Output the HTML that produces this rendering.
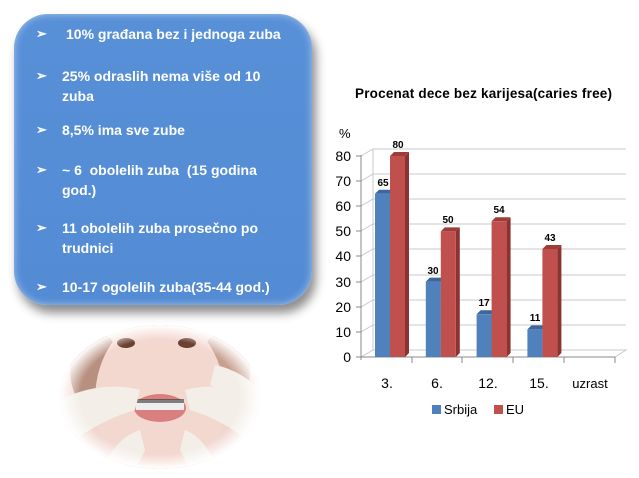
<!DOCTYPE html>
<html><head><meta charset="utf-8"><style>
body{margin:0;background:#fff;width:639px;height:478px;overflow:hidden;font-family:"Liberation Sans",sans-serif;position:relative}
.box{position:absolute;left:14px;top:14px;width:298px;height:291px;border-radius:34px;background:linear-gradient(#5890d8,#538bd4);box-shadow:4px 8px 10px rgba(0,0,0,.45), inset 0 0 8px rgba(255,255,255,.5);}
.box p{position:absolute;margin:0;color:#fff;font-weight:bold;font-size:14px;line-height:20px;left:22px;width:270px}
.box p span{position:absolute;left:0;top:0;font-size:13px}
.box p b{display:block;padding-left:36px}
</style></head><body>
<div class="box">
<p style="top:10px"><span>➢</span><b style="padding-left:30px">10% građana bez i jednoga zuba</b></p>
<p style="top:52px"><span>➢</span><b style="padding-left:26px;width:215px">25% odraslih nema više od 10 zuba</b></p>
<p style="top:106px"><span>➢</span><b style="padding-left:26px">8,5% ima sve zube</b></p>
<p style="top:146px"><span>➢</span><b style="padding-left:26px;width:220px">~ 6&nbsp; obolelih zuba&nbsp; (15 godina god.)</b></p>
<p style="top:204px"><span>➢</span><b style="padding-left:26px;width:220px">11 obolelih zuba prosečno po trudnici</b></p>
<p style="top:263px"><span>➢</span><b style="padding-left:26px">10-17 ogolelih zuba(35-44 god.)</b></p>
</div>
<svg width="639" height="478" style="position:absolute;left:0;top:0">
<defs>
<radialGradient id="fade" cx="50%" cy="50%" r="50%"><stop offset="80%" stop-color="#fff" stop-opacity="0"/><stop offset="100%" stop-color="#fff" stop-opacity="1"/></radialGradient>
<clipPath id="el"><ellipse cx="160" cy="397" rx="100" ry="72"/></clipPath>
</defs>
<g clip-path="url(#el)">
<rect x="55" y="320" width="210" height="160" fill="#f1d6cf"/>
<ellipse cx="95" cy="370" rx="25" ry="40" fill="#b89080"/>
<ellipse cx="225" cy="370" rx="25" ry="40" fill="#c8a090"/>
<ellipse cx="160" cy="400" rx="65" ry="85" fill="#f3d8d0"/>
<ellipse cx="126" cy="343" rx="9" ry="5" fill="#6a4030"/>
<ellipse cx="187" cy="343" rx="9" ry="5" fill="#6a4030"/>
<ellipse cx="160" cy="408" rx="26" ry="14" fill="#d88080"/>
<rect x="136" y="400" width="48" height="10" fill="#eee"/>
<rect x="136" y="399" width="48" height="4" fill="#333" opacity=".6"/>
<path d="M60 400 Q100 380 140 390 L135 410 Q100 420 60 450Z" fill="#f3efe8"/>
<path d="M260 400 Q220 380 185 390 L190 410 Q225 420 260 450Z" fill="#f3efe8"/>
<path d="M100 480 Q110 440 140 430 L145 450 L130 480Z" fill="#f3efe8"/>
<path d="M220 480 Q210 440 185 430 L180 450 L195 480Z" fill="#f3efe8"/>
<path d="M215 365 Q240 370 260 390 L255 410 Q235 395 210 385Z" fill="#f3efe8"/>
<ellipse cx="160" cy="397" rx="100" ry="72" fill="url(#fade)"/>
</g>
<text x="355" y="98" font-size="13.5" font-weight="bold" fill="#000" textLength="257">Procenat dece bez karijesa(caries free)</text>
<text x="339" y="138" font-size="13" fill="#000">%</text>
<g stroke="#c8c8c8" stroke-width="1" fill="none">
<path d="M361 357 L373 350 L373 149 L626 149"/>
<path d="M373 350 L626 350 L615 357"/>
<path d="M361 332 L373 325 H626 M361 307 L373 300 H626 M361 282 L373 275 H626 M361 256 L373 249 H626 M361 231 L373 224 H626 M361 206 L373 199 H626 M361 181 L373 174 H626 M361 156 L373 149"/>
</g>
<g stroke="#888" fill="none"><path d="M361 155 V360 M356 357 H615 M356 332h5 M356 307h5 M356 282h5 M356 256h5 M356 231h5 M356 206h5 M356 181h5 M356 156h5 M412 357v6 M462 357v6 M513 357v6 M564 357v6 M615 357v6"/></g>
<g font-size="14" fill="#000" text-anchor="end">
<text x="351" y="362">0</text><text x="351" y="337">10</text><text x="351" y="312">20</text><text x="351" y="287">30</text><text x="351" y="261">40</text><text x="351" y="236">50</text><text x="351" y="211">60</text><text x="351" y="186">70</text><text x="351" y="161">80</text>
</g>
<!-- bars -->
<g>
<!-- 3. Srbija 65 x=375 y=193.7 -->
<polygon points="390,193.7 394,189.7 394,353 390,357" fill="#3a6399"/>
<polygon points="375,193.7 379,189.7 394,189.7 390,193.7" fill="#3d679c"/>
<rect x="375" y="193.7" width="15" height="163.3" fill="#4f81bd"/>
<!-- 3. EU 80 x=390 y=156 -->
<polygon points="405,156 409,152 409,353 405,357" fill="#8b3331"/>
<polygon points="390,156 394,152 409,152 405,156" fill="#9e3c3a"/>
<rect x="390" y="156" width="15" height="201" fill="#c0504d"/>
<!-- 6. Srbija 30 x=425.8 y=281.6 -->
<polygon points="440.8,281.6 444.8,277.6 444.8,353 440.8,357" fill="#3a6399"/>
<polygon points="425.8,281.6 429.8,277.6 444.8,277.6 440.8,281.6" fill="#3d679c"/>
<rect x="425.8" y="281.6" width="15" height="75.4" fill="#4f81bd"/>
<!-- 6. EU 50 x=440.8 y=231.4 -->
<polygon points="455.8,231.4 459.8,227.4 459.8,353 455.8,357" fill="#8b3331"/>
<polygon points="440.8,231.4 444.8,227.4 459.8,227.4 455.8,231.4" fill="#9e3c3a"/>
<rect x="440.8" y="231.4" width="15" height="125.6" fill="#c0504d"/>
<!-- 12. Srbija 17 x=476.6 y=314.3 -->
<polygon points="491.6,314.3 495.6,310.3 495.6,353 491.6,357" fill="#3a6399"/>
<polygon points="476.6,314.3 480.6,310.3 495.6,310.3 491.6,314.3" fill="#3d679c"/>
<rect x="476.6" y="314.3" width="15" height="42.7" fill="#4f81bd"/>
<!-- 12. EU 54 x=491.6 y=221.3 -->
<polygon points="506.6,221.3 510.6,217.3 510.6,353 506.6,357" fill="#8b3331"/>
<polygon points="491.6,221.3 495.6,217.3 510.6,217.3 506.6,221.3" fill="#9e3c3a"/>
<rect x="491.6" y="221.3" width="15" height="135.7" fill="#c0504d"/>
<!-- 15. Srbija 11 x=527.4 y=329.4 -->
<polygon points="542.4,329.4 546.4,325.4 546.4,353 542.4,357" fill="#3a6399"/>
<polygon points="527.4,329.4 531.4,325.4 546.4,325.4 542.4,329.4" fill="#3d679c"/>
<rect x="527.4" y="329.4" width="15" height="27.6" fill="#4f81bd"/>
<!-- 15. EU 43 x=542.4 y=249 -->
<polygon points="557.4,249 561.4,245 561.4,353 557.4,357" fill="#8b3331"/>
<polygon points="542.4,249 546.4,245 561.4,245 557.4,249" fill="#9e3c3a"/>
<rect x="542.4" y="249" width="15" height="108" fill="#c0504d"/>
</g>
<g font-size="10" font-weight="bold" text-anchor="middle" fill="#000">
<text x="383" y="186">65</text><text x="398" y="148">80</text>
<text x="433" y="274">30</text><text x="448" y="223">50</text>
<text x="484" y="306">17</text><text x="499" y="213">54</text>
<text x="535" y="321">11</text><text x="550" y="241">43</text>
</g>
<g font-size="14" fill="#000" text-anchor="middle">
<text x="387" y="388">3.</text><text x="437" y="388">6.</text><text x="488" y="388">12.</text><text x="539" y="388">15.</text><text x="590" y="388" font-size="13">uzrast</text>
</g>
<rect x="432" y="405" width="9" height="9" fill="#4f81bd"/>
<text x="444" y="414" font-size="13">Srbija</text>
<rect x="494" y="405" width="9" height="9" fill="#c0504d"/>
<text x="506" y="414" font-size="13">EU</text>
</svg>
</body></html>
